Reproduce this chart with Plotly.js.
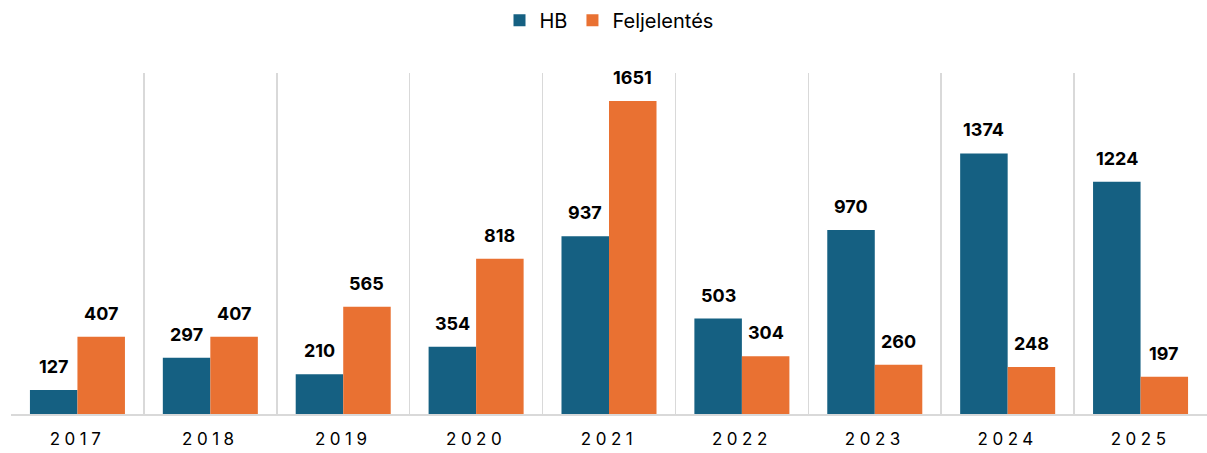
<!DOCTYPE html>
<html><head><meta charset="utf-8">
<script src="https://cdn.plot.ly/plotly-3.0.1.min.js"></script>
<style>
html,body{margin:0;padding:0;background:#fff;}
.xtick text{letter-spacing:4.5px;}
</style>
</head><body>
<div id="chart" style="width:1207px;height:453px;"></div>
<script>
const years = ["2017","2018","2019","2020","2021","2022","2023","2024","2025"];
const hb = [127, 297, 210, 354, 937, 503, 970, 1374, 1224];
const feljelentes = [407, 407, 565, 818, 1651, 304, 260, 248, 197];
const seriesNames = ["HB", "Feljelentés"];
const colors = ["#156082", "#E97132"];

const traces = [hb, feljelentes].map((vals, i) => ({
  type: "bar", name: seriesNames[i], x: years, y: vals,
  marker: {color: colors[i], line: {width: 0}},
  offsetgroup: String(i), hoverinfo: "x+y"
}));

const annotations = [];
const shiftX = [-0.1786, 0.1786];
[hb, feljelentes].forEach((vals, i) => {
  vals.forEach((v, j) => {
    annotations.push({
      x: j + shiftX[i], y: v, xref: "x", yref: "y",
      text: String(v), showarrow: false, yanchor: "bottom", yshift: 11,
      font: {family: "Inter, Arial, sans-serif", size: 18, color: "#000", weight: 700}
    });
  });
});

const layout = {
  width: 1207, height: 453,
  margin: {l: 11, r: 0, t: 73, b: 39, pad: 0},
  paper_bgcolor: "#fff", plot_bgcolor: "#fff",
  barmode: "group", bargap: 0.285, bargroupgap: 0,
  showlegend: true,
  legend: {orientation: "h", x: 0.5, xanchor: "center", y: 1.155, yanchor: "middle",
    font: {family: "Inter, Arial, sans-serif", size: 20, color: "#000"},
    itemwidth: 30, traceorder: "normal"},
  xaxis: {type: "category", tickson: "boundaries", showgrid: true, gridcolor: "#d9d9d9", gridwidth: 1.5,
    showline: true, linecolor: "#d9d9d9", linewidth: 1.5, ticks: "", ticklen: 0,
    ticklabelstandoff: 9,
    tickfont: {family: "Inter, Arial, sans-serif", size: 17, color: "#000"},
    range: [-0.5, 8.5], fixedrange: true, zeroline: false},
  yaxis: {range: [0, 1798], showgrid: false, showticklabels: false, zeroline: false, showline: false, fixedrange: true},
  annotations: annotations,
  font: {family: "Inter, Arial, sans-serif"}
};

Plotly.newPlot("chart", traces, layout, {displayModeBar: false, staticPlot: true});
</script>
</body></html>
